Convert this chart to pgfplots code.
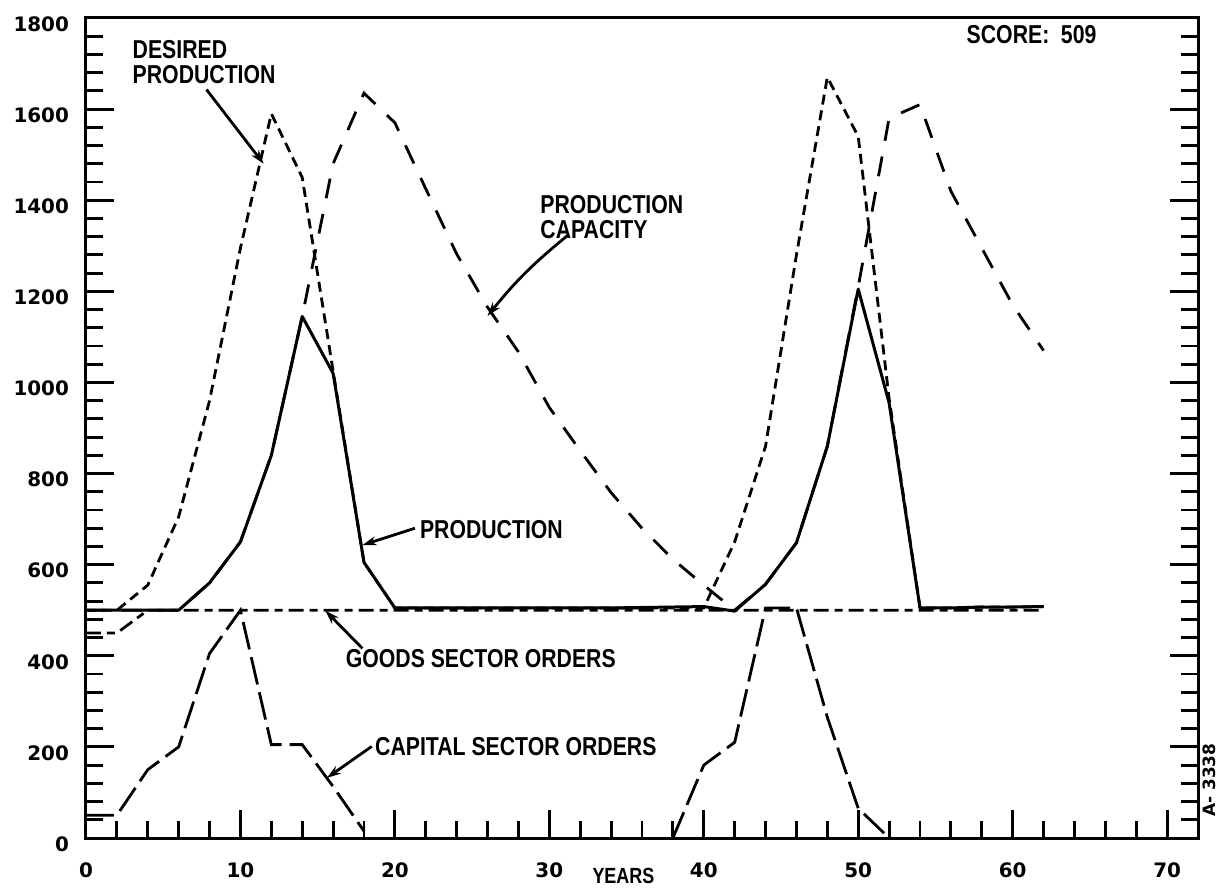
\documentclass[border=0pt]{standalone}
\usepackage{pgfplots}
\pgfplotsset{compat=1.18}
\usepackage{fontspec}
\setmainfont{Liberation Sans}
\newfontfamily\lett{Liberation Sans}[FakeStretch=0.82]
\newfontfamily\digs{DejaVu Sans}
\usetikzlibrary{arrows.meta}

\tikzset{
  ann/.style={font=\lett\bfseries\fontsize{13}{12.5}\selectfont, inner sep=0pt, anchor=west, align=left},
  pt/.style={line width=1.4bp, -{Stealth[length=7bp,width=4.5bp]}},
  cso/.style={black, mark=none, line width=1.4bp, dash pattern=on 14bp off 4bp},
}

\begin{document}
\begin{tikzpicture}
\begin{axis}[
  scale only axis, width=556bp, height=410bp,
  xmin=0, xmax=72, ymin=0, ymax=1800,
  axis line style={line width=1.5bp},
  xtick={0,10,...,70}, ytick={0,200,...,1800},
  minor x tick num=4, minor y tick num=4,
  xtick pos=left, ytick pos=both,
  tick align=inside,
  major tick length=14bp, minor tick length=8.5bp,
  every tick/.style={black, line width=1.4bp},
  ticklabel style={font=\digs\bfseries\fontsize{10}{11}\selectfont},
  /pgf/number format/assume math mode=true,
  /pgf/number format/1000 sep={},
  xticklabel style={yshift=-9bp},
  yticklabel style={xshift=-5bp, yshift=-3bp},
  clip=false,
]

% goods sector orders
\addplot[black, mark=none, line width=1.4bp, dash pattern=on 7.5bp off 3bp on 4bp off 3bp] coordinates {
(0,450) (2,450) (4,500) (6,500) (8,500) (10,500) (12,500) (14,500) (16,500) (18,500) (20,500)
(22,500) (24,500) (26,500) (28,500) (30,500) (32,500) (34,500) (36,500) (38,500) (40,500)
(42,500) (44,500) (46,500) (48,500) (50,500) (52,500) (54,500) (56,500) (58,500) (60,500) (62,500)
};

% capital sector orders (zero between the waves, hidden by the axis)
\addplot[cso] coordinates {
(0,50) (2,50) (4,150) (6,200) (8,405) (10,500) (12,205) (14,205) (16,113) (18,15)
};
\addplot[cso] coordinates {
(38,0) (40,160) (42,210) (44,505) (46,505) (48,265) (50,65) (52,0)
};

% desired production
\addplot[black, mark=none, line width=1.4bp, dash pattern=on 5bp off 3bp] coordinates {
(0,500) (2,500) (4,555) (6,705) (8,960) (10,1295) (12,1590) (14,1450) (16,1025) (18,605) (20,505)
(22,505) (24,505) (26,505) (28,505) (30,505) (32,505) (34,505) (36,505) (38,505) (40,505)
(42,650) (44,860) (46,1280) (48,1670) (50,1540) (52,965) (54,505) (56,505) (58,507) (60,507) (62,508)
};

% production capacity
\addplot[black, mark=none, line width=1.4bp, dash pattern=on 10bp off 8bp] coordinates {
(0,500) (2,500) (4,500) (6,500) (8,560) (10,650) (12,840) (14,1145) (16,1480) (18,1635) (20,1570)
(22,1425) (24,1282) (26,1165) (28,1067) (30,945) (32,850) (34,758) (36,680) (38,612) (40,555)
(42,500) (44,557) (46,648) (48,860) (50,1210) (52,1580) (54,1610) (56,1420) (58,1295) (60,1170) (62,1070)
};

% production
\addplot[black, mark=none, line width=1.5bp, line join=round] coordinates {
(0,500) (2,500) (4,500) (6,500) (8,560) (10,650) (12,840) (14,1145) (16,1020) (18,605) (20,505)
(22,505) (24,505) (26,505) (28,505) (30,505) (32,505) (34,505) (36,506) (38,507) (40,508)
(42,498) (44,557) (46,648) (48,860) (50,1205) (52,955) (54,505) (56,505) (58,507) (60,507) (62,508)
};

\node[ann] at (axis cs:3.0,1704) {DESIRED\\PRODUCTION};
\draw[pt] (axis cs:7.8,1643) -- (axis cs:11.5,1480);

\node[ann] at (axis cs:29.4,1362) {PRODUCTION\\CAPACITY};
\draw[pt] (axis cs:31.2,1323) to[bend right=6] (axis cs:26.0,1146);

\node[ann] at (axis cs:21.6,678) {PRODUCTION};
\draw[pt] (axis cs:21.3,680) -- (axis cs:17.9,643);

\node[ann] at (axis cs:16.8,394) {GOODS SECTOR ORDERS};
\draw[pt] (axis cs:17.9,416) -- (axis cs:15.5,499);

\node[ann] at (axis cs:18.7,201) {CAPITAL SECTOR ORDERS};
\draw[pt] (axis cs:18.5,201) -- (axis cs:15.6,132);

\node[ann] at (axis cs:57,1764) {SCORE:\hspace{0.45em}509};

\node[font=\lett\bfseries\fontsize{11}{12}\selectfont, inner sep=0pt, yshift=-19bp] at (axis cs:34.8,0) {YEARS};

\node[rotate=90, font=\digs\bfseries\fontsize{8.5}{9}\selectfont, inner sep=0pt] at (axis cs:72.75,127) {A- 3338};
\end{axis}
\pgfresetboundingbox
\path[use as bounding box] (-43bp,-25.5bp) rectangle (571.5bp,419bp);
\end{tikzpicture}
\end{document}
